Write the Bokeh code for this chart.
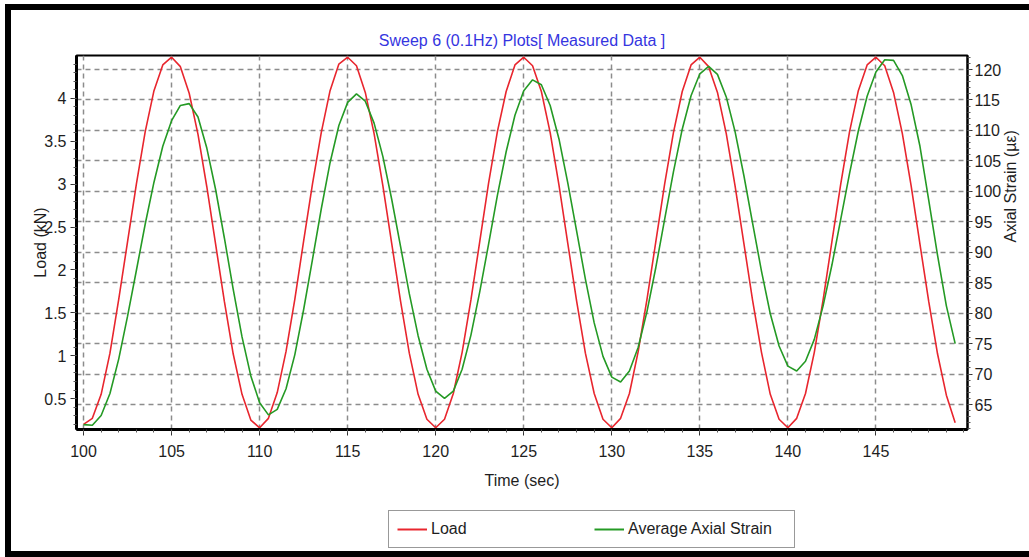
import math
from bokeh.plotting import figure
from bokeh.layouts import column
from bokeh.models import (Range1d, LinearAxis, FixedTicker, Grid, Legend, LegendItem,
                          NumeralTickFormatter, Title)
from bokeh.embed import file_html
from bokeh.resources import INLINE

# ---- data ----
time_s = [100.0, 100.5, 101.0, 101.5, 102.0, 102.5, 103.0, 103.5, 104.0, 104.5,
          105.0, 105.5, 106.0, 106.5, 107.0, 107.5, 108.0, 108.5, 109.0, 109.5,
          110.0, 110.5, 111.0, 111.5, 112.0, 112.5, 113.0, 113.5, 114.0, 114.5,
          115.0, 115.5, 116.0, 116.5, 117.0, 117.5, 118.0, 118.5, 119.0, 119.5,
          120.0, 120.5, 121.0, 121.5, 122.0, 122.5, 123.0, 123.5, 124.0, 124.5,
          125.0, 125.5, 126.0, 126.5, 127.0, 127.5, 128.0, 128.5, 129.0, 129.5,
          130.0, 130.5, 131.0, 131.5, 132.0, 132.5, 133.0, 133.5, 134.0, 134.5,
          135.0, 135.5, 136.0, 136.5, 137.0, 137.5, 138.0, 138.5, 139.0, 139.5,
          140.0, 140.5, 141.0, 141.5, 142.0, 142.5, 143.0, 143.5, 144.0, 144.5,
          145.0, 145.5, 146.0, 146.5, 147.0, 147.5, 148.0, 148.5, 149.0, 149.5]

load_kn = [0.20, 0.27, 0.55, 1.03, 1.66, 2.33, 3.00, 3.61, 4.09, 4.39,
           4.48, 4.37, 4.06, 3.58, 2.97, 2.30, 1.63, 1.02, 0.55, 0.25,
           0.16, 0.27, 0.57, 1.05, 1.66, 2.34, 3.00, 3.60, 4.09, 4.40,
           4.48, 4.38, 4.07, 3.59, 2.98, 2.31, 1.64, 1.03, 0.55, 0.26,
           0.16, 0.26, 0.56, 1.04, 1.65, 2.33, 3.01, 3.61, 4.08, 4.39,
           4.48, 4.38, 4.08, 3.60, 2.99, 2.31, 1.64, 1.03, 0.56, 0.26,
           0.16, 0.27, 0.56, 1.05, 1.66, 2.33, 3.00, 3.60, 4.08, 4.39,
           4.48, 4.37, 4.07, 3.59, 2.98, 2.31, 1.64, 1.04, 0.55, 0.26,
           0.16, 0.27, 0.56, 1.04, 1.65, 2.33, 3.00, 3.61, 4.09, 4.39,
           4.48, 4.38, 4.07, 3.59, 2.98, 2.30, 1.63, 1.02, 0.54, 0.22]

strain_ue = [61.7, 61.6, 63.2, 66.8, 72.5, 79.5, 87.0, 94.6, 101.5, 107.4,
             111.6, 114.1, 114.4, 112.2, 107.1, 100.3, 92.3, 83.9, 76.1, 69.7,
             65.3, 63.3, 64.2, 67.6, 73.2, 80.6, 88.8, 97.1, 104.7, 110.8,
             114.6, 116.0, 114.8, 111.2, 105.7, 98.7, 91.0, 83.2, 76.3, 70.8,
             67.2, 66.0, 67.2, 70.8, 76.4, 83.5, 91.3, 99.3, 106.5, 112.5,
             116.5, 118.3, 117.5, 114.1, 108.6, 101.4, 93.5, 85.6, 78.4, 72.9,
             69.5, 68.7, 70.5, 74.4, 80.3, 87.5, 95.4, 103.2, 110.2, 115.7,
             119.3, 120.5, 119.2, 115.5, 109.8, 102.6, 94.7, 86.9, 79.9, 74.6,
             71.3, 70.5, 72.1, 75.7, 81.2, 87.9, 95.4, 102.9, 109.9, 115.6,
             119.6, 121.6, 121.5, 119.0, 114.2, 107.4, 98.5, 89.5, 81.2, 75.0]

time_ticks = [100, 105, 110, 115, 120, 125, 130, 135, 140, 145]
load_ticks = [0.5, 1.0, 1.5, 2.0, 2.5, 3.0, 3.5, 4.0]
strain_ticks = [65, 70, 75, 80, 85, 90, 95, 100, 105, 110, 115, 120]

title_text = "Sweep 6 (0.1Hz) Plots[ Measured Data ]"
series_names = ["Load", "Average Axial Strain"]

FONT = "Liberation Sans"
RED = "#e8262e"
GREEN = "#259a25"
TXT = "#1e1e1e"

# ---------------- main plot ----------------
p = figure(width=1024, height=500, output_backend="svg", toolbar_location=None,
           x_range=Range1d(99.6, 150.2), y_range=Range1d(0.14, 4.50),
           min_border_left=65, min_border_right=68, min_border_top=45, min_border_bottom=81,
           background_fill_color="white", border_fill_color="white")
p.styles = {"border-left": "6px solid black", "border-top": "6px solid black"}

p.title = Title(text=title_text, align="center", text_color="#3535e0", offset=7,
                text_font=FONT, text_font_size="16px", text_font_style="normal", standoff=14)

p.extra_y_ranges = {"strain": Range1d(60.9, 122.3)}

xax = p.xaxis[0]
xax.ticker = FixedTicker(ticks=time_ticks, minor_ticks=[100 + i for i in range(51)])
xax.axis_label = "Time (sec)"
yax = p.yaxis[0]
yax.ticker = FixedTicker(ticks=load_ticks, minor_ticks=[round(0.2 + 0.1 * i, 2) for i in range(43)])
yax.formatter = NumeralTickFormatter(format="0.[0]")
yax.axis_label = "Load (kN)"
yax.axis_label_standoff = -8

rax = LinearAxis(y_range_name="strain", axis_label="Axial Strain (\u00b5\u03b5)",
                 ticker=FixedTicker(ticks=strain_ticks, minor_ticks=[61 + i for i in range(62)]))
p.add_layout(rax, "right")

for ax in (xax, yax, rax):
    ax.axis_line_color = "black"
    ax.axis_line_width = 3
    ax.major_tick_line_color = "#333333"
    ax.minor_tick_line_color = "#555555"
    ax.major_tick_out = 6
    ax.major_tick_in = 0
    ax.minor_tick_out = 3
    ax.minor_tick_in = 0
    ax.major_label_text_font = FONT
    ax.major_label_text_font_size = "16px"
    ax.major_label_text_color = TXT
    ax.axis_label_text_font = FONT
    ax.axis_label_text_font_size = "16px"
    ax.axis_label_text_font_style = "normal"
    ax.axis_label_text_color = TXT
rax.axis_line_width = 2
rax.major_tick_out = 5
rax.major_label_standoff = 2
rax.axis_label_standoff = 6
rax.axis_label_orientation = math.pi / 2
xax.major_label_standoff = 9
xax.axis_label_standoff = 12
yax.major_label_standoff = 4

p.xgrid.ticker = xax.ticker
p.xgrid.grid_line_color = "#8c8c8c"
p.xgrid.grid_line_dash = "5 4"
p.xgrid.grid_line_width = 1.5
p.ygrid.visible = False
g = Grid(dimension=1, ticker=FixedTicker(ticks=strain_ticks), y_range_name="strain",
         grid_line_color="#8c8c8c", grid_line_dash="5 4", grid_line_width=1.5)
p.add_layout(g)

p.outline_line_color = "black"
p.outline_line_width = 2
p.outline_line_alpha = 1.0

p.line(time_s, load_kn, line_color=RED, line_width=1.6)
p.line(time_s, strain_ue, line_color=GREEN, line_width=1.6, y_range_name="strain")

# ---------------- legend strip below the plot ----------------
p2 = figure(width=1024, height=53, output_backend="svg", toolbar_location=None,
            x_range=Range1d(0, 1), y_range=Range1d(0, 1),
            x_axis_location=None, y_axis_location=None,
            min_border_left=0, min_border_right=0, min_border_top=0, min_border_bottom=0,
            background_fill_color="white", border_fill_color="white", outline_line_color=None)
p2.grid.visible = False
p2.styles = {"border-left": "6px solid black", "border-bottom": "6px solid black"}
# same series drawn here only to feed the legend glyphs (outside this strip's view)
l1 = p2.line(time_s, load_kn, line_color=RED, line_width=2)
l2 = p2.line(time_s, strain_ue, line_color=GREEN, line_width=2)

legend = Legend(items=[LegendItem(label=series_names[0], renderers=[l1]),
                       LegendItem(label=series_names[1], renderers=[l2])],
                orientation="horizontal", location=(312, 9),
                label_width=158, spacing=5, glyph_width=30, glyph_height=20, label_height=20,
                label_standoff=4, padding=8, margin=0,
                label_text_font=FONT, label_text_font_size="16px", label_text_color=TXT,
                border_line_color="#333333", border_line_width=1.5,
                background_fill_color="white")
p2.add_layout(legend, "center")

layout = column(p, p2, spacing=0, styles={"margin": "4px 0px 0px 5px"})

open("out.html", "w").write(file_html(layout, INLINE))
